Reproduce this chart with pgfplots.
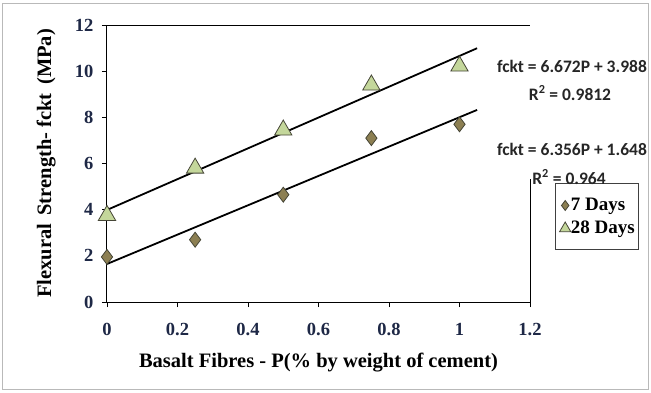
\documentclass[border=0pt]{standalone}
\usepackage{pgfplots}
\pgfplotsset{compat=1.18}
\usepackage{fontspec}
\setmainfont{Liberation Serif}
\newfontfamily\eqfont{Carlito}
\definecolor{tickc}{RGB}{30,40,70}
\definecolor{dia}{RGB}{140,127,82}
\definecolor{tri}{RGB}{196,215,155}
\definecolor{edge}{RGB}{70,70,55}
\begin{document}
\begin{tikzpicture}
\useasboundingbox (-107pt,-90pt) rectangle (544pt,302pt);
\draw[gray!55, line width=1pt] (-104pt,-87pt) rectangle (541pt,299pt);
\begin{axis}[
  at={(0pt,0pt)}, anchor=south west,
  scale only axis, width=423pt, height=277pt,
  xmin=0, xmax=1.2, ymin=0, ymax=12,
  xtick={0,0.2,...,1.2}, ytick={0,2,...,12},
  axis x line*=bottom, axis y line*=left,
  axis line style={line width=1pt, -},
  tick style={black, line width=0.8pt},
  tick align=outside, major tick length=5pt,
  /pgf/number format/assume math mode=true,
  ticklabel style={font=\fontsize{18.5}{20}\selectfont\bfseries, text=tickc},
  xticklabel style={yshift=-13pt},
  yticklabel style={xshift=-5pt},
  xlabel={Basalt Fibres - P(\% by weight of cement)},
  ylabel={Flexural\, Strength- fckt\, (MPa)},
  label style={font=\fontsize{20.5}{22}\selectfont\bfseries},
  xlabel style={at={(axis description cs:0.5,-0.217)}, anchor=center},
  ylabel style={at={(axis description cs:-0.144,0.5)}, anchor=center},
  legend style={at={(axis description cs:1.059,0.43)}, anchor=north west,
    draw=black!75, line width=1.2pt, font=\fontsize{19}{21}\selectfont\bfseries,
    inner xsep=4pt, inner ysep=11pt,
    /tikz/every even column/.append style={column sep=1pt},
    nodes={minimum height=22pt, inner sep=0pt}},
  legend cell align=left,
  clip=false,
]
\addplot[black, line width=1.8pt, forget plot] coordinates {(0,1.648) (1.05,8.322)};
\addplot[black, line width=1.8pt, forget plot] coordinates {(0,3.988) (1.05,10.994)};
\addplot[only marks, mark=diamond*, mark size=7.5pt, mark options={fill=dia, draw=edge, line width=0.8pt},
  legend image code/.code={\draw[fill=dia, draw=edge, line width=0.6pt] plot[mark=diamond*, mark size=5pt] coordinates {(6pt,0)};}]
  coordinates {(0,1.95) (0.25,2.7) (0.5,4.65) (0.75,7.1) (1,7.7)};
\addlegendentry{7 Days}
\addplot[only marks, mark=triangle*, mark size=10pt, mark options={fill=tri, draw=edge, line width=0.8pt},
  legend image code/.code={\draw[fill=tri, draw=edge, line width=0.6pt] plot[mark=triangle*, mark size=6.5pt] coordinates {(6pt,-1pt)};}]
  coordinates {(0,3.75) (0.25,5.8) (0.5,7.45) (0.75,9.4) (1,10.22)};
\addlegendentry{28 Days}
\draw[line width=1pt] (axis cs:0,12) -- (axis cs:1.2,12);
\draw[line width=1pt] (axis cs:1.2,0) -- (axis cs:1.2,5.35);
\end{axis}
\begin{scope}[every node/.style={font=\eqfont\fontsize{17.5}{19}\selectfont\bfseries, text=black!85, inner sep=0pt}]
\node at (465pt,236pt) {fckt = 6.672P + 3.988};
\node at (463pt,209pt) {R\textsuperscript{2} = 0.9812};
\node at (465pt,153pt) {fckt = 6.356P + 1.648};
\node at (462pt,125pt) {R\textsuperscript{2} = 0.964};
\end{scope}
\end{tikzpicture}
\end{document}
